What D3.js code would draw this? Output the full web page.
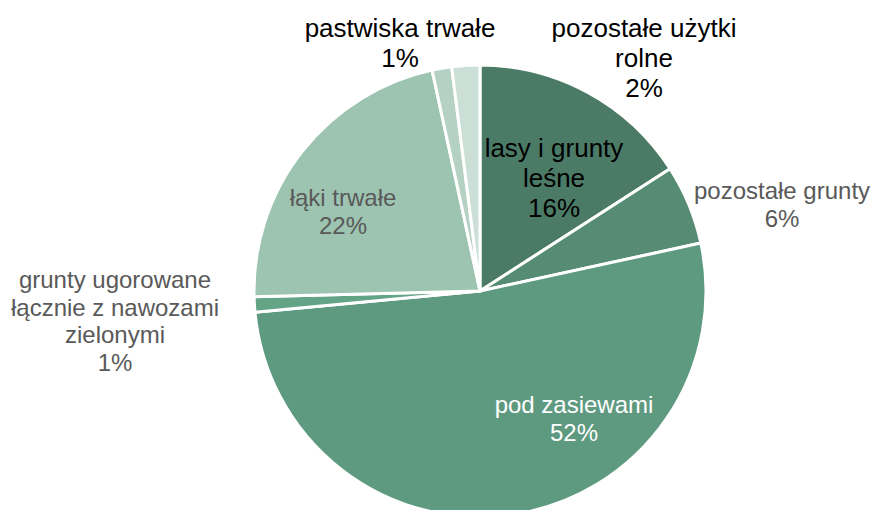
<!DOCTYPE html>
<html>
<head>
<meta charset="utf-8">
<script src="https://cdn.jsdelivr.net/npm/d3@7"></script>
<style>
  html, body { margin: 0; padding: 0; background: #fff; }
  svg { display: block; }
  text { font-family: "Liberation Sans", Arial, sans-serif; }
</style>
</head>
<body>
<svg id="chart" width="873" height="510"></svg>
<script>
// Land-use structure (share of total area, %)
const categories = [
  "lasy i grunty leśne",
  "pozostałe grunty",
  "pod zasiewami",
  "grunty ugorowane łącznie z nawozami zielonymi",
  "łąki trwałe",
  "pastwiska trwałe",
  "pozostałe użytki rolne"
];
const shares = [15.9, 5.7, 51.9, 1.1, 22.0, 1.4, 2.0];
const colors = ["#4b7b66", "#568c74", "#5e9a80", "#63a487", "#9dc4b1", "#b4d1c4", "#cbdfd6"];

// Label text lines (name split over lines) and their styling
const labelLines = [
  ["lasy i grunty", "leśne"],
  ["pozostałe grunty"],
  ["pod zasiewami"],
  ["grunty ugorowane", "łącznie z nawozami", "zielonymi"],
  ["łąki trwałe"],
  ["pastwiska trwałe"],
  ["pozostałe użytki", "rolne"]
];
const labelColors = ["#000000", "#595959", "#ffffff", "#595959", "#595959", "#000000", "#000000"];
const labelSizes = [26, 24, 24, 24, 24, 26, 26];
// label anchor (centre x, first baseline y)
const labelPos = [
  [554, 157], [782, 199], [574, 413], [115, 288], [343, 206], [400, 37], [644, 37]
];

const svg = d3.select("#chart");
const cx = 480, cy = 291, r = 226;

const pie = d3.pie().sort(null).value(d => d.v).startAngle(0).endAngle(2 * Math.PI);
const arcs = pie(shares.map((v, i) => ({ v, i })));
const arc = d3.arc().innerRadius(0).outerRadius(r);

const g = svg.append("g").attr("transform", `translate(${cx},${cy})`);
g.selectAll("path")
  .data(arcs)
  .join("path")
  .attr("d", arc)
  .attr("fill", d => colors[d.data.i])
  .attr("stroke", "#ffffff")
  .attr("stroke-width", 3)
  .attr("stroke-linejoin", "round");

// Data labels: category name + rounded percentage
const labels = svg.append("g");
arcs.forEach(d => {
  const i = d.data.i;
  const lines = labelLines[i].concat([d3.format(".0f")(shares[i]) + "%"]);
  const size = labelSizes[i];
  const lh = size * 1.15;
  const t = labels.append("text")
    .attr("text-anchor", "middle")
    .attr("font-size", size)
    .attr("fill", labelColors[i]);
  lines.forEach((ln, k) => {
    t.append("tspan")
      .attr("x", labelPos[i][0])
      .attr("y", labelPos[i][1] + k * lh)
      .text(ln);
  });
});
</script>
</body>
</html>
